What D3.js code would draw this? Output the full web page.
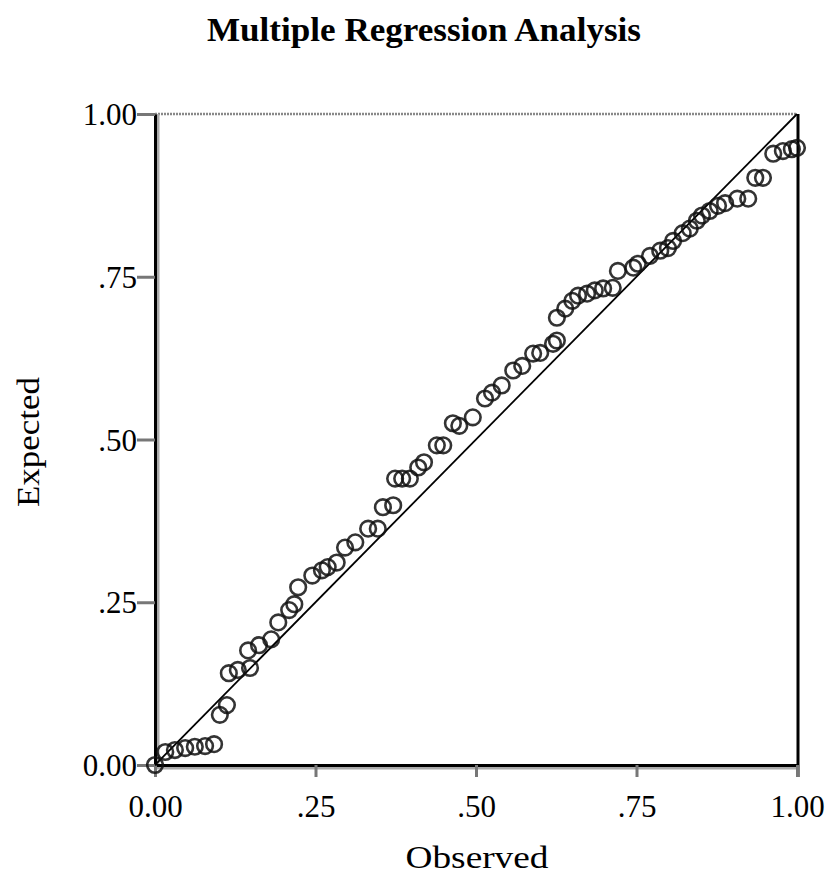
<!DOCTYPE html>
<html>
<head>
<meta charset="utf-8">
<script src="https://cdn.jsdelivr.net/npm/d3@7"></script>
<style>
    body { margin: 0; background: #fff; }
    svg { display: block; font-family: 'Liberation Serif', 'DejaVu Serif', serif; }
</style>
</head>
<body>
<svg id="chart"></svg>
<script>
const title = 'Multiple Regression Analysis'
const xLabel = 'Observed'
const yLabel = 'Expected'

const tickValues = [0, 0.25, 0.5, 0.75, 1]
const tickLabels = ['0.00', '.25', '.50', '.75', '1.00']

// P-P plot points
const observed = [
    0, 0.016, 0.031, 0.047, 0.062, 0.078, 0.092, 0.101, 0.112, 0.115,
    0.129, 0.148, 0.145, 0.162, 0.181, 0.192, 0.209, 0.217, 0.223, 0.245,
    0.260, 0.269, 0.283, 0.296, 0.312, 0.332, 0.347, 0.355, 0.371, 0.374,
    0.385, 0.397, 0.410, 0.419, 0.439, 0.449, 0.464, 0.474, 0.495, 0.514,
    0.525, 0.540, 0.558, 0.572, 0.589, 0.600, 0.620, 0.626, 0.626, 0.639,
    0.650, 0.659, 0.673, 0.685, 0.698, 0.713, 0.721, 0.745, 0.752, 0.771,
    0.787, 0.799, 0.807, 0.822, 0.833, 0.844, 0.852, 0.864, 0.877, 0.888,
    0.907, 0.924, 0.935, 0.947, 0.963, 0.978, 0.992, 1.0,
]
const expected = [
    0, 0.020, 0.023, 0.026, 0.028, 0.029, 0.032, 0.077, 0.092, 0.141,
    0.146, 0.149, 0.176, 0.184, 0.193, 0.219, 0.238, 0.247, 0.273, 0.291,
    0.299, 0.304, 0.311, 0.334, 0.342, 0.363, 0.363, 0.396, 0.399, 0.440,
    0.440, 0.440, 0.457, 0.465, 0.491, 0.491, 0.525, 0.521, 0.534, 0.563,
    0.572, 0.583, 0.606, 0.613, 0.632, 0.633, 0.647, 0.652, 0.687, 0.701,
    0.713, 0.721, 0.724, 0.729, 0.732, 0.733, 0.759, 0.764, 0.770, 0.782,
    0.790, 0.794, 0.805, 0.817, 0.824, 0.836, 0.844, 0.851, 0.859, 0.863,
    0.870, 0.870, 0.902, 0.902, 0.939, 0.943, 0.946, 0.948,
]

const width = 830
const height = 878
const plot = { left: 155, right: 797, top: 114, bottom: 765 }

const svg = d3.select('#chart')
    .attr('width', width)
    .attr('height', height)

const xScale = d3.scaleLinear().domain([0, 1]).range([plot.left, plot.right])
const yScale = d3.scaleLinear().domain([0, 1]).range([plot.bottom, plot.top])

// frame: dotted top, solid right
svg.append('line')
    .attr('x1', plot.left).attr('x2', plot.right)
    .attr('y1', plot.top).attr('y2', plot.top)
    .attr('stroke', '#888')
    .attr('stroke-width', 2.5)
    .attr('stroke-dasharray', '2,1')

svg.append('line')
    .attr('x1', plot.right + 1).attr('x2', plot.right + 1)
    .attr('y1', plot.top).attr('y2', plot.bottom + 12)
    .attr('stroke', '#000')
    .attr('stroke-width', 3)

// grey shadows along the axes
svg.append('line')
    .attr('x1', plot.left + 3).attr('x2', plot.left + 3)
    .attr('y1', plot.top).attr('y2', plot.bottom)
    .attr('stroke', '#aaa')
    .attr('stroke-width', 3)
svg.append('line')
    .attr('x1', plot.left).attr('x2', plot.right)
    .attr('y1', plot.bottom + 3).attr('y2', plot.bottom + 3)
    .attr('stroke', '#aaa')
    .attr('stroke-width', 3)

const xAxis = d3.axisBottom(xScale)
    .tickValues(tickValues)
    .tickFormat((d, i) => tickLabels[i])
    .tickSize(12)
    .tickSizeOuter(0)
    .tickPadding(18)

const yAxis = d3.axisLeft(yScale)
    .tickValues(tickValues)
    .tickFormat((d, i) => tickLabels[i])
    .tickSize(18)
    .tickSizeOuter(0)
    .tickPadding(0)

const xAxisGroup = svg.append('g')
    .attr('transform', `translate(0,${plot.bottom})`)
    .call(xAxis)

const yAxisGroup = svg.append('g')
    .attr('transform', `translate(${plot.left},0)`)
    .call(yAxis)

for (const g of [xAxisGroup, yAxisGroup]) {
    g.attr('font-family', null).attr('font-size', null)
    g.select('.domain').attr('stroke', '#000').attr('stroke-width', 3)
    g.selectAll('.tick line').attr('stroke', '#777').attr('stroke-width', 3)
    g.selectAll('.tick text')
        .attr('fill', '#000')
        .style('font-size', '31px')
}
xAxisGroup.selectAll('.tick text').attr('dy', '0.71em')
yAxisGroup.selectAll('.tick text').attr('x', -18).attr('dy', '0.34em')

// reference diagonal
svg.append('line')
    .attr('x1', xScale(0)).attr('y1', yScale(0))
    .attr('x2', xScale(1)).attr('y2', yScale(1))
    .attr('stroke', '#000')
    .attr('stroke-width', 1.8)

// points
const points = observed.map((o, i) => ({ o, e: expected[i] }))
svg.append('g')
    .selectAll('circle')
    .data(points)
    .join('circle')
    .attr('cx', d => xScale(d.o))
    .attr('cy', d => yScale(d.e))
    .attr('r', 7.8)
    .attr('fill', 'none')
    .attr('stroke', '#111')
    .attr('stroke-opacity', 0.85)
    .attr('stroke-width', 2.6)

// texts
svg.append('text')
    .attr('x', 424)
    .attr('y', 41)
    .attr('text-anchor', 'middle')
    .attr('font-weight', 'bold')
    .attr('font-size', 33)
    .attr('textLength', 434)
    .attr('lengthAdjust', 'spacingAndGlyphs')
    .text(title)

svg.append('text')
    .attr('x', 477)
    .attr('y', 868)
    .attr('text-anchor', 'middle')
    .attr('font-size', 32)
    .attr('textLength', 143)
    .attr('lengthAdjust', 'spacingAndGlyphs')
    .text(xLabel)

svg.append('text')
    .attr('transform', 'translate(39,442) rotate(-90)')
    .attr('text-anchor', 'middle')
    .attr('font-size', 32)
    .attr('textLength', 130)
    .attr('lengthAdjust', 'spacingAndGlyphs')
    .text(yLabel)
</script>
</body>
</html>
